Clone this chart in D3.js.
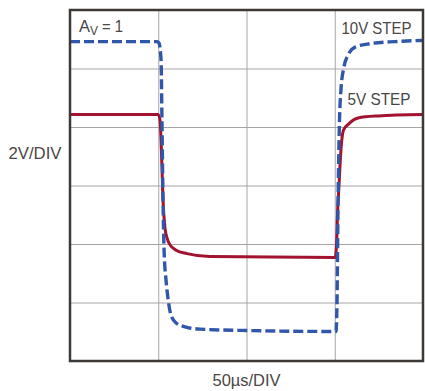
<!DOCTYPE html>
<html>
<head>
<meta charset="utf-8">
<script src="https://cdn.jsdelivr.net/npm/d3@7"></script>
<style>
  body { margin: 0; background: #fff; }
  text { font-family: "Liberation Sans", Arial, sans-serif; fill: #4a4646; }
</style>
</head>
<body>
<div id="chart"></div>
<script>
// time in µs, output in volts
const xTicks = [0, 50, 100, 150, 200];
const yTicks = [-6, -4, -2, 0, 2, 4, 6];

const step10T = [0, 49.3, 50.4, 51.6, 52.1, 52.7, 53.3, 54.4, 55.5, 57.2, 60.1, 65.7, 73.7, 102, 150.7, 151.3, 151.6, 151.9, 152.7, 153.5, 155.2, 157.5, 161.5, 170, 184.1, 200];
const step10V = [4.92, 4.92, 4.87, 4.29, 2.24, -0.5, -2.21, -3.23, -3.85, -4.43, -4.7, -4.84, -4.91, -4.96, -4.99, -3.92, -2.21, -0.5, 2.24, 3.26, 4.05, 4.46, 4.73, 4.85, 4.92, 4.96];

const step5T = [0, 49.9, 51.0, 51.8, 52.7, 53.8, 55.0, 56.7, 60.1, 66.3, 79.3, 150.2, 151.0, 151.6, 152.4, 153.5, 155, 157.8, 163.2, 174.5, 200];
const step5V = [2.43, 2.43, 2.24, 1.21, -0.5, -1.45, -1.8, -2.03, -2.21, -2.33, -2.43, -2.46, -2.03, -0.91, -0.02, 1.21, 1.9, 2.1, 2.31, 2.38, 2.43];

const width = 425, height = 391;
const margin = {left: 70, top: 10, right: 2, bottom: 30};

const svg = d3.select('#chart')
    .append('svg')
    .attr('width', width)
    .attr('height', height);

const x = d3.scaleLinear().domain([0, 200]).range([margin.left, width - margin.right]);
const y = d3.scaleLinear().domain([-6, 6]).range([height - margin.bottom, margin.top]);

const plotW = x(200) - x(0);
const plotH = y(-6) - y(6);

// grid
svg.append('g')
    .attr('transform', 'translate(0,' + y(-6) + ')')
    .call(d3.axisBottom(x).tickValues(xTicks).tickSize(-plotH).tickFormat(''))
    .call(g => g.select('.domain').remove())
    .call(g => g.selectAll('line').attr('stroke', '#a8a6a4').attr('stroke-width', 1));

svg.append('g')
    .attr('transform', 'translate(' + x(0) + ',0)')
    .call(d3.axisLeft(y).tickValues(yTicks).tickSize(-plotW).tickFormat(''))
    .call(g => g.select('.domain').remove())
    .call(g => g.selectAll('line').attr('stroke', '#a8a6a4').attr('stroke-width', 1));

const line = d3.line()
    .x(d => x(d[0]))
    .y(d => y(d[1]))
    .curve(d3.curveMonotoneX);

// 5V step (solid red)
svg.append('path')
    .datum(d3.zip(step5T, step5V))
    .attr('d', line)
    .attr('fill', 'none')
    .attr('stroke', '#a3122f')
    .attr('stroke-width', 3);

// 10V step (dashed blue)
svg.append('path')
    .datum(d3.zip(step10T, step10V))
    .attr('d', line)
    .attr('fill', 'none')
    .attr('stroke', '#3157ab')
    .attr('stroke-width', 3.4)
    .attr('stroke-dasharray', '10,4');

// frame
svg.append('rect')
    .attr('x', x(0))
    .attr('y', y(6))
    .attr('width', plotW)
    .attr('height', plotH)
    .attr('fill', 'none')
    .attr('stroke', '#3d3936')
    .attr('stroke-width', 2.5);

// labels (condensed face in the original, so squeeze to width)
function label(str, lx, ly, len) {
    return svg.append('text')
        .attr('x', lx)
        .attr('y', ly)
        .attr('textLength', len)
        .attr('lengthAdjust', 'spacingAndGlyphs')
        .style('font-size', '16.5px')
        .text(str);
}

const av = svg.append('text')
    .attr('x', 79)
    .attr('y', 32)
    .style('font-size', '16.5px');
av.append('tspan').text('A').attr('textLength', 11).attr('lengthAdjust', 'spacingAndGlyphs');
av.append('tspan').text('V').attr('dy', 3).style('font-size', '13px')
    .attr('textLength', 8).attr('lengthAdjust', 'spacingAndGlyphs');
av.append('tspan').text(' = 1').attr('dy', -3)
    .attr('textLength', 25).attr('lengthAdjust', 'spacingAndGlyphs');

label('10V STEP', 341.5, 34, 70);
label('5V STEP', 347.5, 105, 63);
label('2V/DIV', 8.5, 159, 53);
label('50µs/DIV', 212.5, 386, 68);
</script>
</body>
</html>
